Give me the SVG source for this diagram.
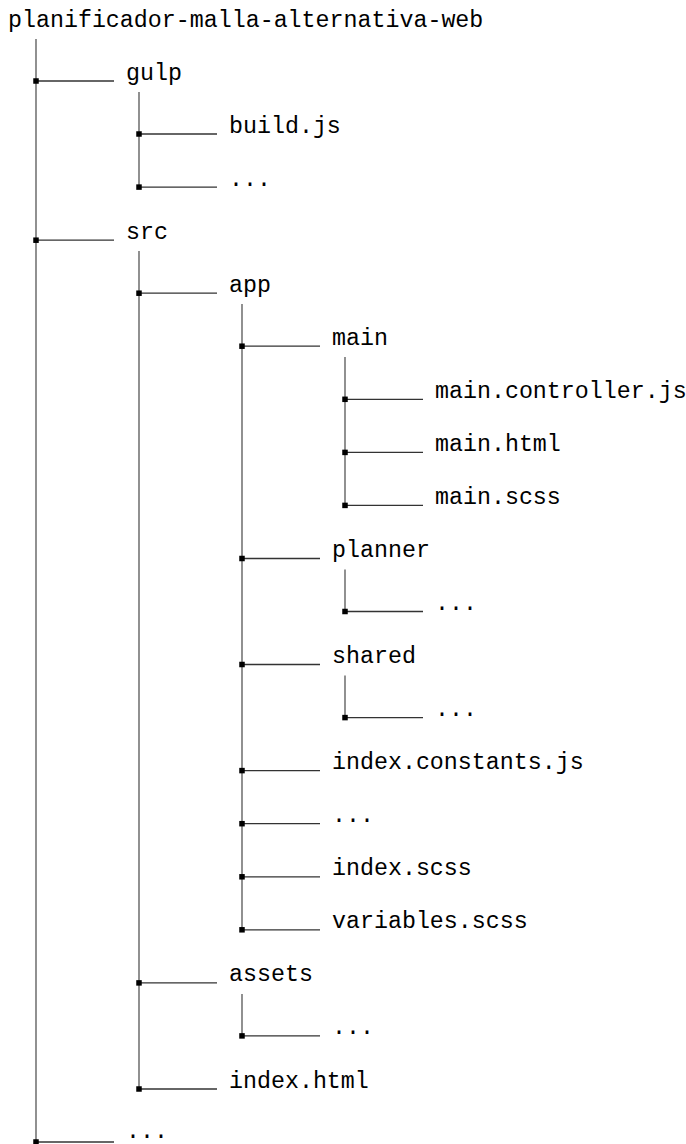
<svg xmlns="http://www.w3.org/2000/svg" width="686" height="1144" viewBox="0 0 686 1144">
<style>
text{font-family:"Liberation Mono","Courier New",monospace;font-size:23.3px;fill:#000}
.v{stroke:#555;stroke-width:1.3;fill:none}
.h{stroke:#333;stroke-width:1.3;fill:none;marker-start:url(#sq)}
</style>
<defs>
<marker id="sq" markerWidth="7" markerHeight="7" refX="3.5" refY="3.5" markerUnits="userSpaceOnUse"><rect x="0.75" y="0.75" width="5.5" height="5.5" fill="#000"/></marker>
</defs>
<rect width="686" height="1144" fill="#fff"/>
<g id="connectors">
<path class="v" d="M36 39V1142"/>
<path class="v" d="M139 92V187.1"/>
<path class="v" d="M139 251V1089"/>
<path class="v" d="M242 304V929.8"/>
<path class="v" d="M345 357V505.4"/>
<path class="v" d="M345 569.5V611.5"/>
<path class="v" d="M345 675.5V717.6"/>
<path class="v" d="M242 994V1035.9"/>
<path class="h" d="M36 81H114"/>
<path class="h" d="M139 134H217"/>
<path class="h" d="M139 187.1H217"/>
<path class="h" d="M36 240.2H114"/>
<path class="h" d="M139 293.2H217"/>
<path class="h" d="M242 346.2H320"/>
<path class="h" d="M345 399.3H423"/>
<path class="h" d="M345 452.4H423"/>
<path class="h" d="M345 505.4H423"/>
<path class="h" d="M242 558.5H320"/>
<path class="h" d="M345 611.5H423"/>
<path class="h" d="M242 664.5H320"/>
<path class="h" d="M345 717.6H423"/>
<path class="h" d="M242 770.6H320"/>
<path class="h" d="M242 823.7H320"/>
<path class="h" d="M242 876.8H320"/>
<path class="h" d="M242 929.8H320"/>
<path class="h" d="M139 982.9H217"/>
<path class="h" d="M242 1035.9H320"/>
<path class="h" d="M139 1089H217"/>
<path class="h" d="M36 1142H114"/>
</g>
<g id="n-root"><text x="8" y="27">planificador-malla-alternativa-web</text></g>
<g id="n-gulp"><text x="126" y="80">gulp</text></g>
<g id="n-build"><text x="229" y="133">build.js</text></g>
<g id="n-gulp-more"><text x="229" y="186">...</text></g>
<g id="n-src"><text x="126" y="239">src</text></g>
<g id="n-app"><text x="229" y="292">app</text></g>
<g id="n-main"><text x="332" y="345">main</text></g>
<g id="n-main-ctrl"><text x="435" y="398">main.controller.js</text></g>
<g id="n-main-html"><text x="435" y="451">main.html</text></g>
<g id="n-main-scss"><text x="435" y="504">main.scss</text></g>
<g id="n-planner"><text x="332" y="557">planner</text></g>
<g id="n-planner-more"><text x="435" y="610">...</text></g>
<g id="n-shared"><text x="332" y="663">shared</text></g>
<g id="n-shared-more"><text x="435" y="716">...</text></g>
<g id="n-index-const"><text x="332" y="769">index.constants.js</text></g>
<g id="n-app-more"><text x="332" y="822">...</text></g>
<g id="n-index-scss"><text x="332" y="875">index.scss</text></g>
<g id="n-variables"><text x="332" y="928">variables.scss</text></g>
<g id="n-assets"><text x="229" y="981">assets</text></g>
<g id="n-assets-more"><text x="332" y="1034">...</text></g>
<g id="n-index-html"><text x="229" y="1088">index.html</text></g>
<g id="n-root-more"><text x="126" y="1138">...</text></g>
</svg>
